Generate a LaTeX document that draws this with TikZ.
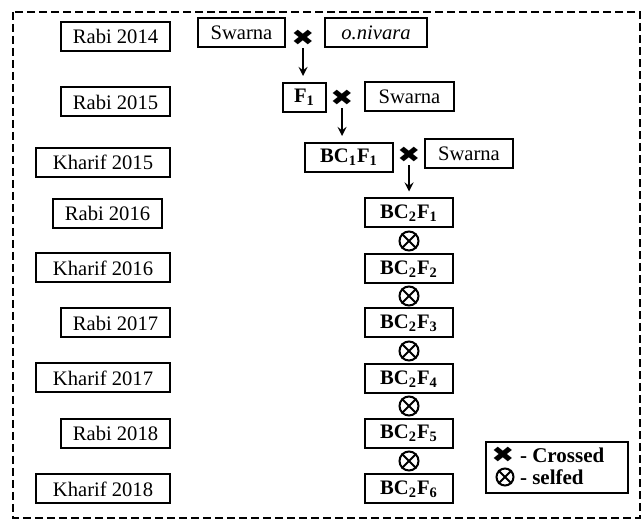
\documentclass[tikz,border=0pt]{standalone}
\usepackage{fontspec}
\usepackage{graphicx}
\setmainfont{Liberation Serif}
\newfontfamily\symfont{DejaVu Sans}
\usetikzlibrary{arrows}
\newcommand{\crossmark}{\scalebox{1.25}[1]{✖}}

\begin{document}
\begin{tikzpicture}[x=0.5pt, y=-0.5pt,
        font=\fontsize{10.3}{12}\selectfont,
        box/.style={rectangle, draw, line width=1pt, minimum height=14.5pt, inner sep=0pt},
        rabi/.style={box, minimum width=54.5pt, anchor=east},
        kharif/.style={box, minimum width=67pt, anchor=east},
        gen/.style={box, minimum width=44pt, font=\fontsize{10.3}{12}\selectfont\bfseries},
        crossed/.style={inner sep=0pt, font=\symfont\fontsize{11}{11}\selectfont},
        selfed/.style={circle, draw, line width=1pt, minimum size=9.5pt, inner sep=0pt},
        arrow/.style={line width=1pt, ->, >=stealth, shorten >=3pt, shorten <=1pt}
    ]
        \useasboundingbox (0,0) rectangle (644,519);
        \draw[dashed, line width=1.2pt, dash pattern=on 4pt off 2pt] (13,12) rectangle (640,518);

        % --- Seasons ---
        \node[rabi]   (p1) at (171, 36.5)  {Rabi 2014};
        \node[rabi]   (p2) at (171, 102)   {Rabi 2015};
        \node[kharif] (p3) at (171, 162.5) {Kharif 2015};
        \node[rabi]   (p4) at (163, 213.5) {Rabi 2016};
        \node[kharif] (p5) at (171, 268)   {Kharif 2016};
        \node[rabi]   (p6) at (171, 323)   {Rabi 2017};
        \node[kharif] (p7) at (171, 378)   {Kharif 2017};
        \node[rabi]   (p8) at (171, 433.5) {Rabi 2018};
        \node[kharif] (p9) at (171, 489)   {Kharif 2018};

        % --- Crosses ---
        \node[box, minimum width=43.5pt] (sw1) at (241.5, 33) {Swarna};
        \node[crossed] (x1) at (303, 38) {\crossmark};
        \node[box, minimum width=51pt] (nv) at (376, 33) {\textit{o.nivara}};
        \node[gen, minimum width=21.5pt] (f1) at (304.5, 97.5) {F\textsubscript{1}};
        \node[crossed] (x2) at (342, 98) {\crossmark};
        \node[box, minimum width=44.5pt] (sw2) at (409.5, 96.5) {Swarna};
        \node[gen] (bc1) at (349, 157.5) {BC\textsubscript{1}F\textsubscript{1}};
        \node[crossed] (x3) at (409, 155) {\crossmark};
        \node[box, minimum width=44pt] (sw3) at (469, 154) {Swarna};
        \draw[arrow] (x1) -- (x1 |- f1.north);
        \draw[arrow] (x2) -- (x2 |- bc1.north);

        % --- Selfing ---
        \node[gen] (bc21) at (409, 213) {BC\textsubscript{2}F\textsubscript{1}};
        \node[gen] (bc22) at (409, 269) {BC\textsubscript{2}F\textsubscript{2}};
        \node[gen] (bc23) at (409, 323) {BC\textsubscript{2}F\textsubscript{3}};
        \node[gen] (bc24) at (409, 379) {BC\textsubscript{2}F\textsubscript{4}};
        \node[gen] (bc25) at (409, 433.5) {BC\textsubscript{2}F\textsubscript{5}};
        \node[gen] (bc26) at (409, 489) {BC\textsubscript{2}F\textsubscript{6}};
        \draw[arrow] (x3) -- (x3 |- bc21.north);
        \foreach \n/\y in {o1/241, o2/296, o3/351, o4/406, o5/461} {
            \node[selfed] (\n) at (409, \y) {};
            \draw[line width=1pt] (\n.north east) -- (\n.south west) (\n.north west) -- (\n.south east);
        }

        % --- Legend ---
        \node[box, line width=0.8pt, minimum width=71pt, minimum height=25.5pt] (leg) at (557, 467.5) {};
        \node[crossed] (lx) at (503, 455) {\crossmark};
        \node[anchor=west, font=\fontsize{10.5}{12}\selectfont\bfseries] (lxt) at (513, 455) {- Crossed};
        \node[selfed, minimum size=8.5pt] (lo) at (505, 477) {};
        \draw[line width=1pt] (lo.north east) -- (lo.south west) (lo.north west) -- (lo.south east);
        \node[anchor=west, font=\fontsize{10.5}{12}\selectfont\bfseries] (lot) at (513, 477) {- selfed};
    \end{tikzpicture}
\end{document}
